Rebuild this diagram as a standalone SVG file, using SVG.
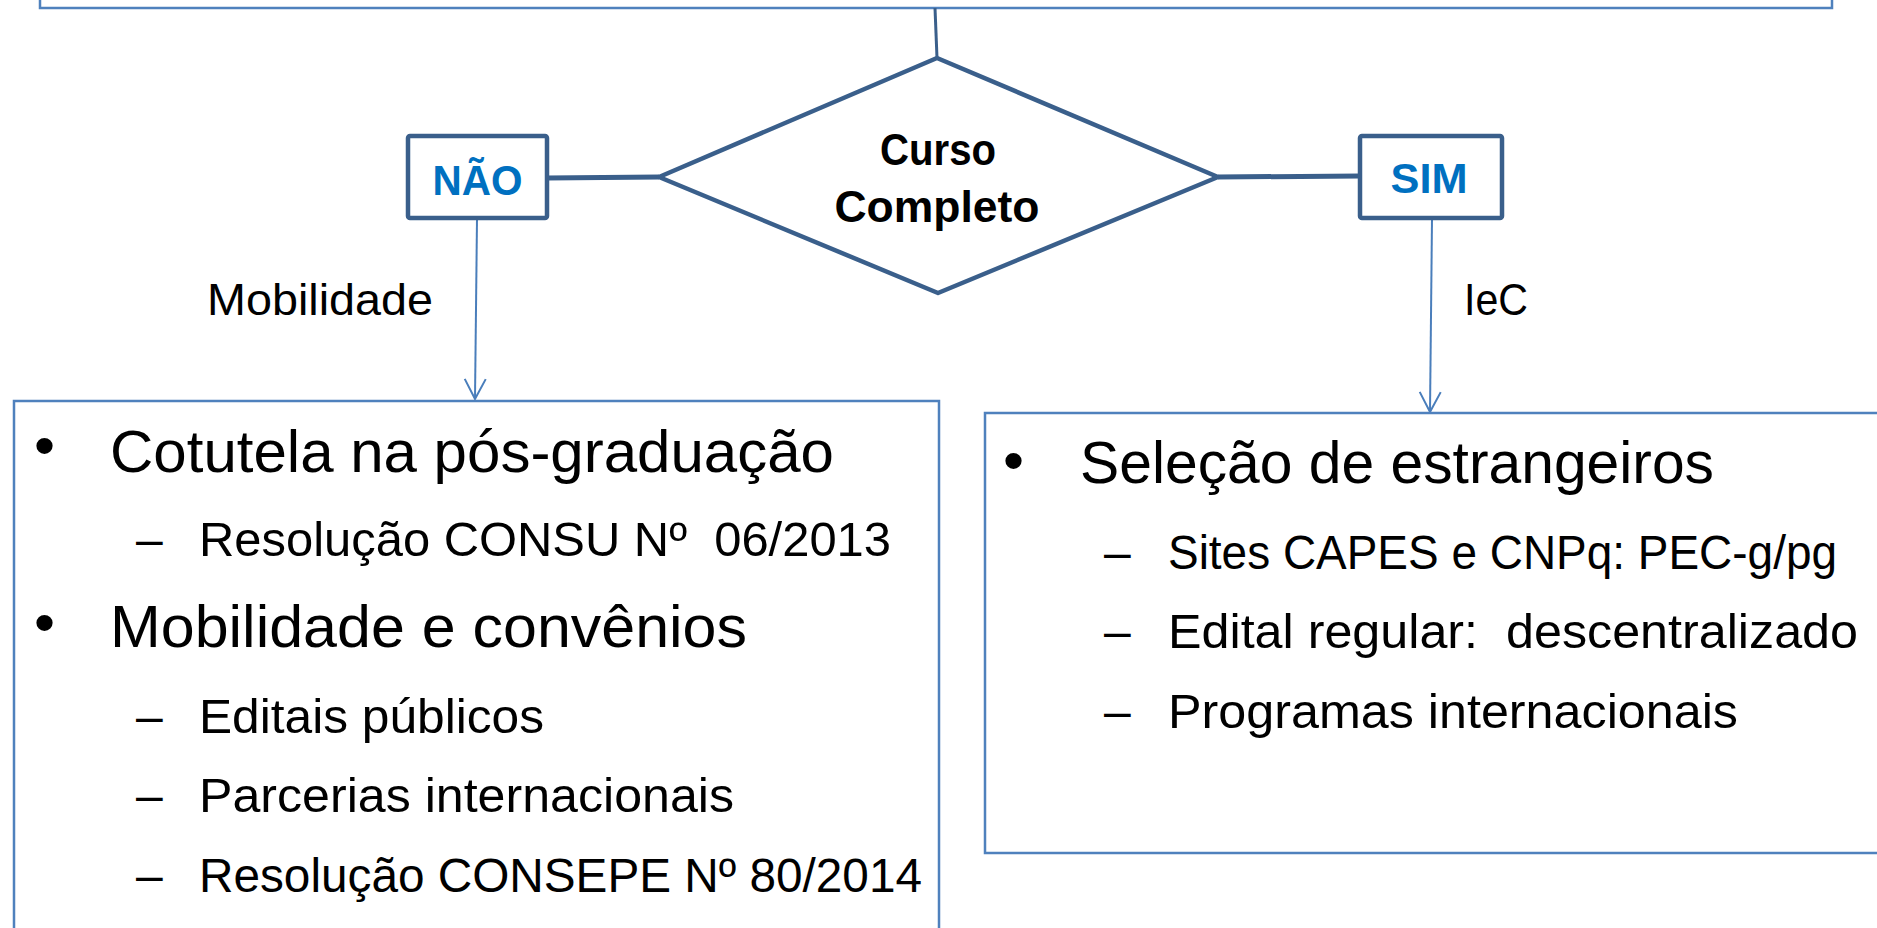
<svg xmlns="http://www.w3.org/2000/svg" width="1877" height="928" viewBox="0 0 1877 928">
<style>
.box{fill:#fff;stroke:#4F81BD;stroke-width:2.5}
.dk{fill:#fff;stroke:#3A5F8B;stroke-width:4.5;stroke-linejoin:round}
.thick{fill:none;stroke:#3A5F8B;stroke-width:5}
.thin{fill:none;stroke:#3A5F8B;stroke-width:3}
.arr{fill:none;stroke:#4A7EBB;stroke-width:2}
.t{font-family:"Liberation Sans",Arial,sans-serif;fill:#000}
.b{font-family:"Liberation Sans",Arial,sans-serif;font-weight:bold}
.blue{fill:#0070C0}
.main{font-size:60px}
.sub{font-size:48px}
.lbl{font-size:44px}
</style>
<defs>
<marker id="ah" viewBox="0 0 22 24" refX="21" refY="12" markerWidth="22" markerHeight="24" markerUnits="userSpaceOnUse" orient="auto">
<path d="M1,1.5 L21,12 L1,22.5" fill="none" stroke="#4A7EBB" stroke-width="2"/>
</marker>
</defs>

<g id="top-box">
<rect class="box" x="40" y="-60" width="1792" height="68" stroke-width="3"/>
</g>

<g id="connectors">
<line class="thin" x1="935" y1="8" x2="937" y2="58"/>
<line class="thick" x1="547" y1="178" x2="659" y2="177"/>
<line class="thick" x1="1218" y1="177" x2="1360" y2="176"/>
<line class="arr" x1="477" y1="219" x2="475" y2="399" marker-end="url(#ah)"/>
<line class="arr" x1="1432" y1="219" x2="1430" y2="412" marker-end="url(#ah)"/>
<text class="t lbl" x="207" y="315" textLength="226" lengthAdjust="spacingAndGlyphs">Mobilidade</text>
<text class="t lbl" x="1464" y="315" textLength="64" lengthAdjust="spacingAndGlyphs">IeC</text>
</g>

<g id="decision">
<polygon class="dk" points="937,58 1218,177 938,293 659,177" stroke-width="4"/>
<text class="b lbl" x="938" y="165" text-anchor="middle" textLength="116" lengthAdjust="spacingAndGlyphs">Curso</text>
<text class="b lbl" x="937" y="222" text-anchor="middle" textLength="205" lengthAdjust="spacingAndGlyphs">Completo</text>
</g>

<g id="nao">
<rect class="dk" x="408" y="136" width="139" height="82" rx="2"/>
<text class="b blue" x="477.5" y="195" font-size="42" text-anchor="middle" textLength="90" lengthAdjust="spacingAndGlyphs">NÃO</text>
</g>

<g id="sim">
<rect class="dk" x="1360" y="136" width="142" height="82" rx="2"/>
<text class="b blue" x="1429" y="193" font-size="42" text-anchor="middle" textLength="77" lengthAdjust="spacingAndGlyphs">SIM</text>
</g>

<g id="left-box">
<rect class="box" x="14" y="401" width="925" height="560"/>
<text class="t main" x="34" y="466">•</text>
<text class="t main" x="110" y="472" textLength="724" lengthAdjust="spacingAndGlyphs">Cotutela na pós-graduação</text>
<text class="t sub" x="136" y="556">–</text>
<text class="t sub" x="199" y="556" textLength="692" lengthAdjust="spacingAndGlyphs">Resolução CONSU Nº&#160; 06/2013</text>
<text class="t main" x="34" y="643">•</text>
<text class="t main" x="110" y="647" textLength="637" lengthAdjust="spacingAndGlyphs">Mobilidade e convênios</text>
<text class="t sub" x="136" y="733">–</text>
<text class="t sub" x="199" y="733" textLength="345" lengthAdjust="spacingAndGlyphs">Editais públicos</text>
<text class="t sub" x="136" y="812">–</text>
<text class="t sub" x="199" y="812" textLength="535" lengthAdjust="spacingAndGlyphs">Parcerias internacionais</text>
<text class="t sub" x="136" y="892">–</text>
<text class="t sub" x="199" y="892" textLength="723" lengthAdjust="spacingAndGlyphs">Resolução CONSEPE Nº 80/2014</text>
</g>

<g id="right-box">
<rect class="box" x="985" y="413" width="920" height="440"/>
<text class="t main" x="1003" y="481">•</text>
<text class="t main" x="1080" y="483" textLength="634" lengthAdjust="spacingAndGlyphs">Seleção de estrangeiros</text>
<text class="t sub" x="1104" y="569">–</text>
<text class="t sub" x="1168" y="569" textLength="669" lengthAdjust="spacingAndGlyphs">Sites CAPES e CNPq: PEC-g/pg</text>
<text class="t sub" x="1104" y="648">–</text>
<text class="t sub" x="1168" y="648" textLength="690" lengthAdjust="spacingAndGlyphs">Edital regular:&#160; descentralizado</text>
<text class="t sub" x="1104" y="728">–</text>
<text class="t sub" x="1168" y="728" textLength="570" lengthAdjust="spacingAndGlyphs">Programas internacionais</text>
</g>
</svg>
